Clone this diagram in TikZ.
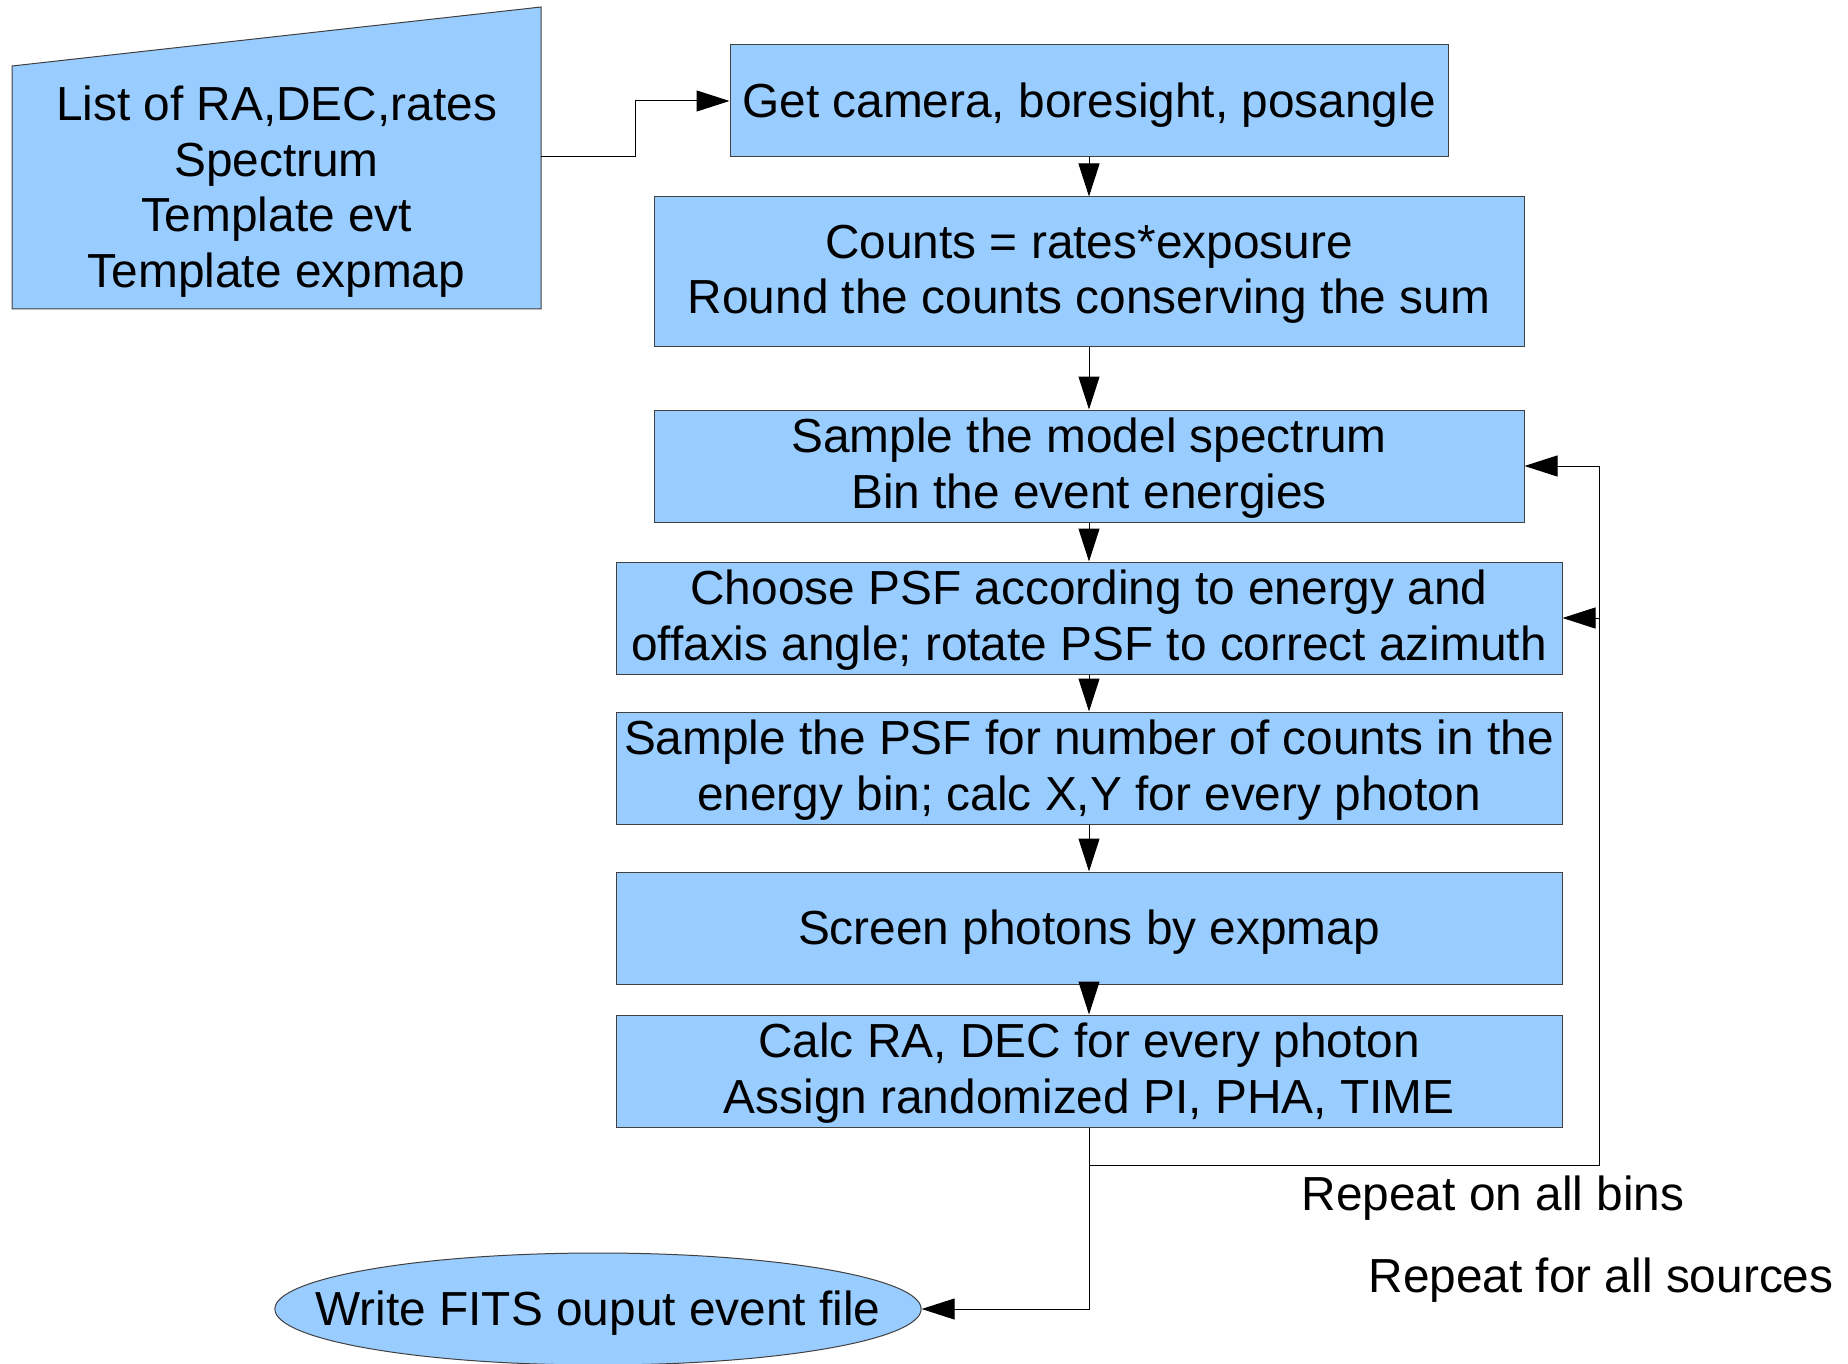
\documentclass[tikz,border=0pt]{standalone}
\usepackage{fontspec}
\setmainfont{Liberation Sans}
\usetikzlibrary{arrows.meta,positioning,shapes.geometric}
\definecolor{sky}{HTML}{99CCFF}
\definecolor{rim}{HTML}{404040}
\newcommand{\topstrut}[1][24.5pt]{\rule[-5.1pt]{0pt}{#1}}

\begin{document}
\begin{tikzpicture}[x=0.5pt,y=-0.5pt,>={Triangle[length=16.5pt,width=10.5pt]},
  every node/.style={font=\fontsize{23.9}{27.7}\selectfont,
    execute at begin node=\topstrut[26.7pt],execute at end node=\topstrut[26.7pt]},
  box/.style={draw=rim,line width=0.5pt,fill=sky,align=center,inner xsep=2pt,inner ysep=0pt,minimum width=473pt,minimum height=56pt},
  link/.style={->,line width=0.5pt}]
  \useasboundingbox (0,0) rectangle (1848,1364);
  % input data sheet
  \draw[rim,fill=sky,line width=0.5pt] (12,309) -- (12,66) -- (541,7) -- (541,309) -- cycle;
  \node[minimum width=264.5pt,minimum height=121.5pt,inner sep=0pt,align=center] (source) at (276.5,187.5) {\topstrut[26.7pt]List of RA,DEC,rates\\Spectrum\\Template evt\\Template expmap};
  % processing chain
  \node[box,minimum width=359pt] (camera) at (1089,101) {Get camera, boresight, posangle};
  \node[box,minimum width=435pt,minimum height=75pt,below=19.5pt of camera] (counts) {\topstrut Counts = rates*exposure\\Round the counts conserving the sum};
  \node[box,minimum width=435pt,below=31pt of counts] (spectrum) {\topstrut Sample the model spectrum\\Bin the event energies};
  \node[box,below=19.5pt of spectrum] (psf) {\topstrut Choose PSF according to energy and\\offaxis angle; rotate PSF to correct azimuth};
  \node[box,below=18.5pt of psf] (photons) {\topstrut Sample the PSF for number of counts in the\\energy bin; calc X,Y for every photon};
  \node[box,below=23.5pt of photons] (screen) {Screen photons by expmap};
  \node[box,below=15pt of screen] (calc) {\topstrut Calc RA, DEC for every photon\\Assign randomized PI, PHA, TIME};
  \node[ellipse,draw=rim,fill=sky,line width=0.5pt,minimum width=322pt,minimum height=56pt,inner xsep=-27pt,inner ysep=0pt] (write) at (598,1309) {Write FITS ouput event file};
  \node (binslabel) at (1493,1194) {Repeat on all bins};
  \node (srclabel) at (1601,1276) {Repeat for all sources};
  % connectors
  \draw[link] ([yshift=15.25pt]source.east) -- ++(94,0) |- (camera.west);
  \draw[link] (camera) -- (counts); \draw[link] (counts) -- (spectrum);
  \draw[link] (spectrum) -- (psf); \draw[link] (psf) -- (photons);
  \draw[link] (photons) -- (screen); \draw[link] (screen) -- (calc);
  \draw[line width=0.5pt] (calc.south) -- ++(0,38) coordinate (fork) -- ++(510,0) coordinate (back);
  \draw[link] (back) |- (spectrum.east);
  \draw[link] (back |- psf.east) -- (psf.east);
  \draw[link] (fork) |- (write.east);
\end{tikzpicture}
\end{document}
